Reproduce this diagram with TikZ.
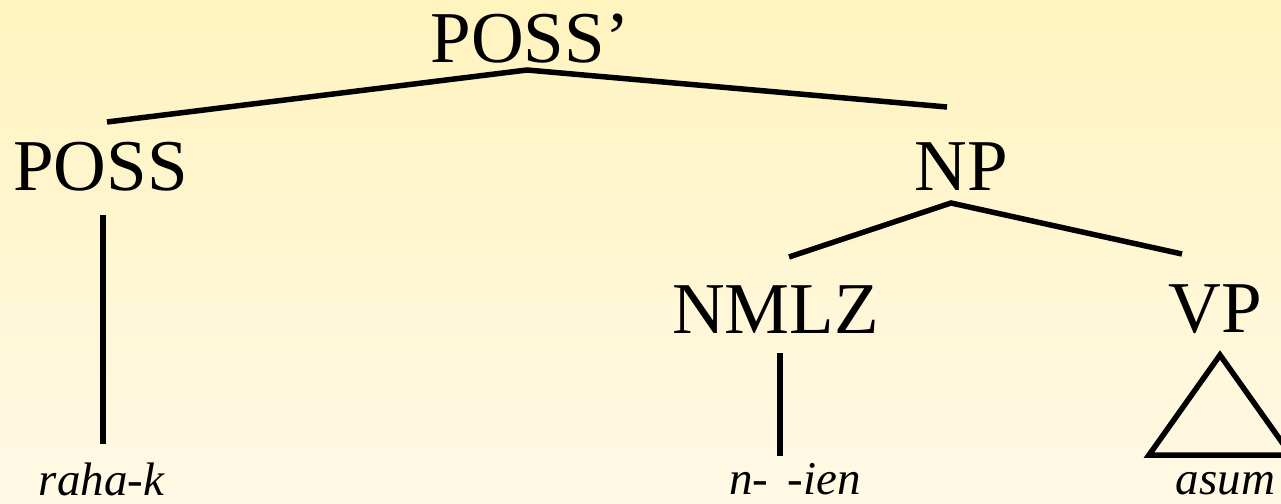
\documentclass[tikz,border=0pt]{standalone}
\usepackage{fontspec}
\newfontfamily\tmsfont[Extension=.ttf, UprightFont=*-Regular, ItalicFont=*-Italic, BoldFont=*-Bold]{LiberationSerif}
\definecolor{bgtop}{RGB}{255,243,190}
\definecolor{bgbot}{RGB}{255,249,230}
\begin{document}
\begin{tikzpicture}[x=1pt,y=-1pt,
  lbl/.style={font=\tmsfont\fontsize{73}{73}\selectfont, inner sep=0pt, anchor=base},
  word/.style={font=\tmsfont\itshape\fontsize{47}{47}\selectfont, inner sep=0pt, anchor=base},
  branch/.style={line width=5.5pt, line join=miter}]
\shade[top color=bgtop, bottom color=bgbot] (0,0) rectangle (1281,503);
\useasboundingbox (0,0) rectangle (1281,503);
% labels
\node[lbl] (possbar) at (530,63) {POSS’};
\node[lbl] (poss) at (100.5,190) {POSS};
\node[lbl] (np) at (961.5,190) {NP};
\node[lbl] (nmlz) at (775.5,333) {NMLZ};
\node[lbl] (vp) at (1215,332) {VP};
\node[word] (rahak) at (101.5,495) {raha-k};
\node[word] (nien) at (795,494) {n- \,-ien};
\node[word] (asum) at (1225.5,494) {asum};
% branch points
\coordinate (a1) at (527,70);
\coordinate (l1) at (107,122);
\coordinate (r1) at (947,107);
\coordinate (a2) at (951,203);
\coordinate (l2) at (789,257);
\coordinate (r2) at (1182,254);
\coordinate (p1) at (103,215);
\coordinate (p2) at (103,444);
\coordinate (n1) at (780,353);
\coordinate (n2) at (780,456);
\coordinate (t1) at (1220,355);
\coordinate (t2) at (1149,455);
\coordinate (t3) at (1291,455);
% branches
\draw[branch] (l1) -- (a1) -- (r1);
\draw[branch] (l2) -- (a2) -- (r2);
\draw[branch] (p1) -- (p2);
\draw[branch] (n1) -- (n2);
\draw[branch] (t1) -- (t2) -- (t3) -- cycle;
\end{tikzpicture}
\end{document}
